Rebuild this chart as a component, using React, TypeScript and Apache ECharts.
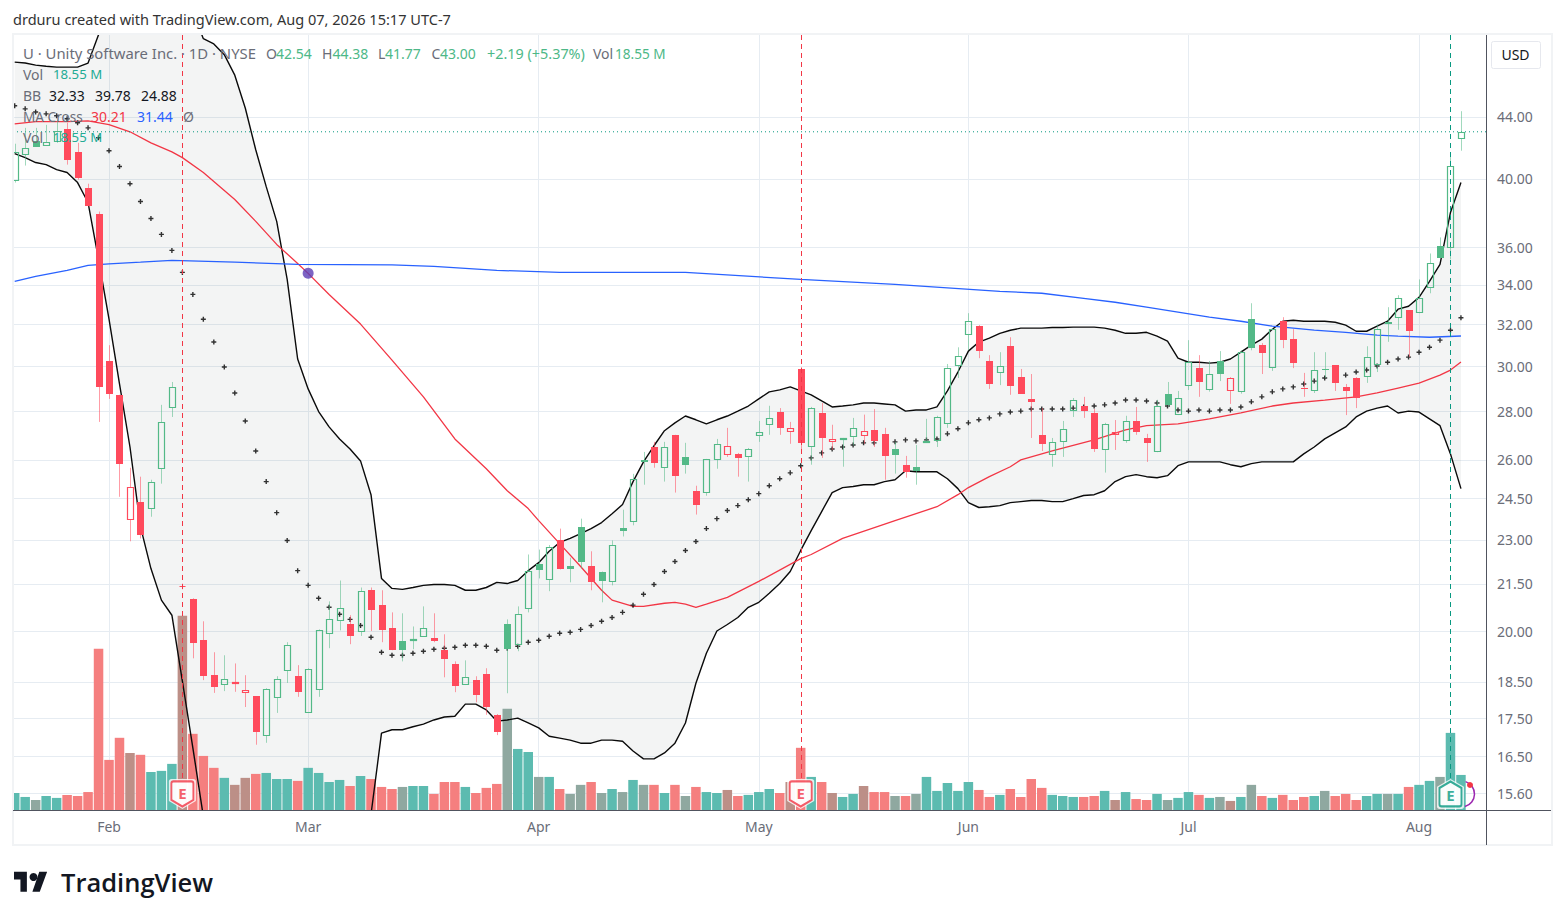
import React, { useEffect, useRef } from "react";
import * as echarts from "echarts";

const opens = [39.86,41.47,42.41,42.09,42.35,43.20,41.70,39.47,37.88,30.26,
28.73,23.70,24.39,24.13,25.65,28.15,21.40,21.00,19.72,18.69,
18.41,18.45,18.20,18.10,17.02,18.06,18.82,18.66,17.65,18.26,
19.92,20.32,20.23,19.98,21.29,20.81,20.08,19.69,19.70,19.83,
19.78,19.42,19.01,18.41,18.54,18.72,17.58,20.23,19.59,20.70,
22.18,21.64,22.98,22.08,23.47,22.11,21.91,21.57,23.44,23.63,
26.00,26.52,25.68,27.02,26.12,24.80,24.71,25.99,26.21,26.24,
26.11,26.96,27.42,27.98,27.13,29.89,26.51,27.94,26.74,26.81,
26.95,26.99,27.22,27.05,26.44,25.81,25.73,26.69,26.75,27.47,
30.04,31.51,31.92,30.26,29.69,30.95,29.52,28.55,27.02,26.19,
26.71,28.01,28.24,27.94,26.39,27.00,26.75,27.60,26.89,26.31,
28.77,27.85,29.13,29.93,28.93,30.26,28.89,28.84,32.26,31.00,
29.92,32.16,31.29,29.03,28.89,29.89,30.07,29.08,29.48,29.51,
30.09,32.10,32.30,32.71,32.55,33.86,36.12,36.00,42.54];

const closes = [41.70,41.96,42.03,42.35,43.07,41.20,40.08,38.35,29.08,28.77,
25.84,24.96,23.19,25.15,27.56,29.08,21.43,19.64,18.67,18.36,
18.57,18.51,18.26,17.14,18.31,18.59,19.59,18.22,18.88,20.04,
20.38,20.73,19.85,21.28,20.65,20.02,19.42,19.43,19.77,20.10,
19.69,19.15,18.38,18.65,18.12,17.80,17.13,19.45,20.54,21.93,
21.96,22.76,21.98,22.01,22.22,21.56,21.61,22.83,23.33,25.25,
25.92,25.88,26.51,25.38,25.81,24.28,26.03,26.63,26.55,26.08,
26.43,27.13,27.72,27.31,27.30,26.69,28.14,26.87,26.85,26.89,
27.30,27.17,26.77,26.16,26.20,25.51,25.55,26.77,27.76,29.92,
30.47,32.15,30.73,29.21,30.02,29.12,28.77,28.42,26.65,26.71,
27.26,28.49,28.02,26.44,27.47,27.13,27.59,27.14,26.69,28.23,
28.28,28.58,30.20,29.30,29.64,29.66,29.46,30.70,30.86,30.62,
31.77,31.24,30.17,29.00,29.83,29.84,29.26,28.90,28.59,30.43,
31.80,32.03,33.35,31.69,33.35,35.18,35.45,40.81,43.00];

const highs = [42.22,43.26,43.26,43.46,43.80,43.60,42.28,39.71,38.05,31.00,
28.73,25.69,25.34,25.22,28.29,29.30,21.51,21.03,20.30,19.36,
19.27,19.03,18.69,18.10,18.32,18.66,19.66,18.98,18.89,20.05,
20.93,21.61,20.49,21.38,21.38,21.29,20.58,20.55,20.14,20.77,
20.55,19.90,19.09,19.12,18.66,18.89,17.61,20.36,20.77,22.49,
22.66,22.82,23.40,22.38,23.76,22.60,21.91,22.98,24.09,25.45,
26.32,26.73,26.73,27.02,26.69,24.99,26.04,26.85,27.31,26.28,
26.48,27.60,28.25,28.15,27.56,29.98,28.20,28.37,27.44,26.89,
27.73,27.87,28.11,27.31,26.73,26.16,26.60,27.69,27.82,30.12,
30.90,32.56,31.97,30.53,30.67,31.38,29.89,29.66,28.15,26.89,
27.60,28.59,28.64,28.11,27.52,27.64,27.82,28.20,27.06,28.51,
29.30,28.90,31.24,30.53,30.26,30.72,29.52,30.76,33.06,31.10,
31.83,32.36,31.77,29.71,30.67,30.67,30.07,29.21,29.52,30.95,
32.01,32.86,33.47,32.71,34.29,35.68,36.57,41.64,44.38];

const lows = [39.78,40.83,42.02,42.09,42.28,40.89,39.96,38.35,27.56,28.55,
24.57,22.95,23.05,23.83,25.07,27.77,21.32,19.18,18.55,18.19,
18.24,18.22,17.80,16.80,16.85,17.64,18.47,18.08,17.65,18.08,
19.48,20.02,19.60,19.85,20.00,19.66,19.42,19.09,19.45,19.83,
19.66,18.63,18.21,18.41,17.93,17.59,17.05,18.18,19.39,20.58,
21.68,21.26,21.98,21.55,22.01,21.29,20.90,21.45,23.12,23.52,
25.03,25.69,25.15,24.73,25.46,23.91,24.61,25.65,26.12,25.34,
25.15,26.73,27.02,27.02,26.65,26.32,25.81,26.08,26.40,25.73,
26.58,26.65,26.52,25.22,25.46,25.30,25.03,26.69,26.52,27.31,
29.48,30.76,30.39,28.99,29.16,28.73,28.77,26.89,26.36,25.73,
26.12,27.77,27.73,26.32,25.50,26.40,26.69,27.02,25.92,26.31,
28.20,27.85,28.94,28.64,28.87,29.34,28.33,28.78,30.76,29.66,
29.80,30.86,29.93,28.64,28.81,29.48,28.90,27.85,28.15,29.26,
29.75,31.16,31.74,30.44,32.56,33.57,35.46,35.36,41.77];

const volumes = [9.0,6.9,5.3,7.4,6.4,8.0,7.4,9.5,85.3,26.5,38.2,30.2,29.2,20.1,20.7,24.4,102.8,40.3,28.6,22.3,17.0,13.3,17.0,19.1,19.6,16.4,16.4,15.4,
22.3,19.6,14.8,15.9,12.7,18.0,16.4,12.2,11.1,12.2,12.7,12.7,8.5,14.8,14.8,12.2,9.0,11.7,13.8,53.5,32.3,30.7,17.5,17.5,11.1,
8.5,13.3,14.8,9.0,11.1,9.5,15.9,13.3,13.3,9.0,13.3,7.4,12.2,9.5,9.0,10.6,7.4,8.0,9.5,11.1,9.0,14.8,32.9,17.5,14.8,9.0,6.9,8.5,12.7,9.5,9.5,7.4,7.4,8.5,17.5,10.1,14.3,10.1,14.8,10.6,6.9,8.0,11.1,6.9,16.4,11.7,8.0,7.4,6.9,6.9,7.4,10.1,5.3,9.5,5.8,5.3,8.5,5.3,6.4,9.5,8.0,6.4,6.9,4.8,6.9,13.3,7.4,6.4,8.0,5.3,6.9,7.4,10.1,7.4,8.5,5.3,7.4,8.5,8.5,8.5,12.2,13.3,15.4,17.5,40.8,18.55];

const bbUpper = [47.85,47.78,47.63,47.55,47.48,47.48,47.48,47.78,49.9,53.0,55.5,57.0,58.0,58.5,58.0,56.0,54.0,51.7,49.6,49.20,
48.4,46.9,44.6,41.83,39.53,37.48,34.29,30.35,28.99,28.0,27.35,26.85,26.44,25.96,24.65,21.68,21.35,21.32,21.38,21.45,
21.48,21.48,21.45,21.29,21.29,21.38,21.55,21.51,21.61,21.94,22.21,22.60,22.91,23.05,23.22,23.40,23.62,23.94,24.28,25.15,
25.92,26.57,27.19,27.52,27.81,27.65,27.48,27.65,27.81,28.02,28.24,28.55,28.86,28.95,29.08,28.90,28.73,28.46,28.20,28.24,
28.29,28.37,28.37,28.33,28.29,28.02,28.07,28.07,28.20,28.90,29.75,30.72,31.15,31.34,31.57,31.72,31.82,31.82,31.82,31.85,
31.85,31.87,31.87,31.87,31.82,31.72,31.57,31.57,31.62,31.43,31.19,30.39,30.20,30.20,30.16,30.20,30.35,30.67,31.00,31.29,
31.77,32.16,32.21,32.16,32.16,32.16,32.11,31.97,31.67,31.67,31.92,32.16,32.76,32.91,33.36,34.19,35.09,38.0,39.78];

const bbLower = [41.58,41.33,41.02,40.89,40.58,40.40,39.78,38.58,35.36,32.26,29.21,26.52,23.47,22.01,20.97,20.49,18.52,16.72,15.05,14.8,
14.4,14.1,13.9,13.8,13.7,13.7,13.8,13.9,14.0,14.0,14.1,14.3,14.5,14.8,15.1,17.10,17.19,17.19,17.27,17.34,
17.45,17.53,17.55,17.88,17.88,17.72,17.42,17.45,17.50,17.37,17.24,17.02,16.97,16.92,16.84,16.84,16.92,16.92,16.89,16.64,
16.44,16.44,16.59,16.84,17.37,18.46,19.33,20.00,20.20,20.42,20.74,20.90,21.19,21.51,21.91,22.63,23.33,24.02,24.73,24.92,
24.96,25.03,25.03,25.15,25.22,25.57,25.53,25.53,25.53,25.26,24.88,24.35,24.17,24.20,24.24,24.35,24.39,24.43,24.43,24.39,
24.39,24.50,24.62,24.65,24.80,25.15,25.34,25.42,25.34,25.30,25.38,25.77,25.92,25.92,25.92,25.92,25.81,25.73,25.85,25.92,
25.92,25.92,25.92,26.24,26.52,26.85,27.10,27.35,27.77,28.02,28.15,28.24,27.94,28.02,27.98,27.69,27.40,26.24,24.88];

const bbBasis = [44.75,44.54,44.33,44.20,44.07,43.87,43.60,43.26,42.61,41.77,40.77,39.71,38.64,37.65,36.74,35.85,34.66,33.51,32.26,31.15,
29.98,28.81,27.60,26.36,25.15,23.98,22.98,21.94,21.45,21.03,20.74,20.52,20.36,20.17,19.81,19.36,19.27,19.27,19.33,19.39,
19.45,19.48,19.51,19.57,19.57,19.54,19.42,19.48,19.54,19.66,19.72,19.84,19.93,19.96,20.05,20.17,20.30,20.42,20.58,20.81,
21.16,21.48,21.91,22.25,22.63,22.94,23.40,23.76,24.06,24.24,24.46,24.69,24.99,25.26,25.49,25.77,26.08,26.28,26.44,26.52,
26.60,26.69,26.69,26.73,26.73,26.81,26.77,26.81,26.85,27.06,27.27,27.52,27.65,27.73,27.90,27.98,28.02,28.11,28.11,28.11,
28.11,28.15,28.20,28.24,28.29,28.37,28.50,28.50,28.46,28.37,28.24,28.07,28.02,28.07,28.02,28.07,28.07,28.20,28.42,28.64,
28.86,28.99,29.08,29.21,29.34,29.48,29.52,29.61,29.75,29.84,30.03,30.20,30.35,30.44,30.67,30.90,31.24,31.72,32.33];

const ma50Index = [0,2,5,7,9,11,13,15,16,18,21,23,25,27,28,30,33,36,39,42,45,47,49,50,52,54,56,57,59,60,62,63,64,65,66,68,71,75,76,79,84,88,90,91,93,95,96,99,103,106,108,111,114,117,120,122,125,128,130,132,134,136,137,138];
const ma50Values = [43.53,43.67,43.67,43.73,43.47,43.0,42.28,41.70,41.33,40.40,38.76,37.48,36.18,35.14,34.61,33.51,32.02,30.30,28.64,26.85,25.65,24.80,24.13,23.69,22.87,22.08,21.29,20.97,20.77,20.77,20.87,20.90,20.84,20.74,20.84,21.06,21.58,22.35,22.49,23.05,23.69,24.20,24.65,24.92,25.34,25.73,26.00,26.36,26.81,27.23,27.40,27.48,27.69,27.94,28.24,28.37,28.50,28.64,28.81,29.03,29.25,29.61,29.84,30.21];

const ma200Index = [0,2,5,7,9,12,15,21,27,36,40,46,52,64,75,84,94,98,102,105,108,111,114,117,120,124,127,130,132,135,138];
const ma200Values = [34.19,34.45,34.77,35.04,35.12,35.21,35.31,35.21,35.09,35.06,34.98,34.77,34.66,34.66,34.29,34.03,33.67,33.57,33.31,33.11,32.86,32.61,32.36,32.16,31.92,31.72,31.62,31.48,31.43,31.38,31.44];

const crossPoint = [28, 34.61];
const lastClose = 43.0;
const earningsPast = [16, 75];
const earningsNext = [137];
const earningsLineBottom = 15.85;
const badgeVolumeLevel = 8.5;

const monthIndex = [9, 28, 50, 71, 91, 112, 134];
const monthNames = ["Feb", "Mar", "Apr", "May", "Jun", "Jul", "Aug"];
const priceTicks = [15.6, 16.5, 17.5, 18.5, 20, 21.5, 23, 24.5, 26, 28, 30, 32, 34, 36, 40, 44];

const Y_MIN = 15.2;
const Y_MAX = 49.88;
const X_MIN = -0.162;
const X_MAX = 140.39;

const UP = "#53b987";
const DOWN = "#ff4a5c";
const GRID = "#e6ecf2";
const TEXT = "#6a6d78";
const VALUE_TEAL = "#22ab94";
const VALUE_GREEN = "#4db887";
const FONT = '"Noto Sans", sans-serif';

function volumeColor(i: number): string {
  const up = i === 0 ? true : closes[i] >= closes[i - 1];
  const hollow = closes[i] >= opens[i];
  if (up && hollow) return "#5cbbb0";
  if (!up && !hollow) return "#f57f7f";
  if (up) return "#8fa8a0";
  return "#bc8f87";
}

function candleItem(params: any, api: any) {
  const i = api.value(0);
  const o = api.value(1);
  const c = api.value(2);
  const l = api.value(3);
  const h = api.value(4);
  const prev = params.dataIndex === 0 ? o : closes[params.dataIndex - 1];
  const color = c >= prev ? UP : DOWN;
  const hollow = c >= o;
  const x = Math.round(api.coord([i, o])[0]);
  const yH = api.coord([i, h])[1];
  const yL = api.coord([i, l])[1];
  const yT = Math.round(api.coord([i, Math.max(o, c)])[1]);
  const yB = Math.max(Math.round(api.coord([i, Math.min(o, c)])[1]), yT + 1);
  const wick = (a: number, b: number) => ({
    type: "line",
    shape: { x1: x + 0.5, y1: a, x2: x + 0.5, y2: b },
    style: { stroke: color, lineWidth: 1, opacity: 0.55 },
  });
  const body = hollow
    ? {
        type: "rect",
        shape: { x: x - 2.5, y: yT + 0.5, width: 6, height: yB - yT - 1 },
        style: { fill: "none", stroke: color, lineWidth: 1.2 },
      }
    : {
        type: "rect",
        shape: { x: x - 3, y: yT, width: 7, height: yB - yT },
        style: { fill: color },
      };
  return { type: "group", children: [wick(yH, yT), wick(yB, yL), body] };
}

function bandItem(_params: any, api: any) {
  const pts: number[][] = [];
  bbUpper.forEach((v, i) => pts.push(api.coord([i, v])));
  for (let i = bbLower.length - 1; i >= 0; i--) pts.push(api.coord([i, bbLower[i]]));
  return { type: "polygon", shape: { points: pts }, style: { fill: "rgba(76,96,85,0.065)" } };
}

function earningsLineItem(params: any, api: any) {
  const i = api.value(0);
  const a = api.coord([i, Y_MAX]);
  const b = api.coord([i, earningsLineBottom]);
  return {
    type: "line",
    shape: { x1: Math.round(a[0]) + 0.5, y1: a[1], x2: Math.round(a[0]) + 0.5, y2: b[1] },
    style: { stroke: api.value(1) ? "#089981" : "#f23645", lineWidth: 1, lineDash: [5, 4] },
  };
}

const SHIELD = "path://M2 0H18Q20 0 20 2V17L10 23L0 17V2Q0 0 2 0Z";
const HOUSE = "path://M10 0L20 6V21Q20 23 18 23H2Q0 23 0 21V6Z";
const PLUS = "path://M1.8 0H3.2V1.8H5V3.2H3.2V5H1.8V3.2H0V1.8H1.8Z";
const LOGO_PATH = "M14 25H7V14H0V7h14v18zM28 25h-8l7.5-18H36l-8 18z";

function lineSeries(name: string, data: number[][], color: string, width: number) {
  return {
    name,
    type: "line",
    data,
    yAxisIndex: 0,
    showSymbol: false,
    symbol: "none",
    silent: true,
    z: 3,
    lineStyle: { color, width },
  };
}

function legendText(x: number, y: number, text: string, fill: string, fontSize = 14) {
  return {
    type: "text",
    x,
    y,
    z: 100,
    silent: true,
    style: { text, fill, fontFamily: FONT, fontSize, verticalAlign: "middle" },
  };
}

export default function App() {
  const ref = useRef<HTMLDivElement>(null);
  useEffect(() => {
    document.body.style.margin = "0";
    document.body.style.background = "#ffffff";
    echarts.graphic.registerShape("tvlogo", echarts.graphic.extendPath(LOGO_PATH, {}) as any);
    const chart = echarts.init(ref.current!, undefined, { renderer: "svg" });
    const idx = (arr: number[]) => arr.map((v, i) => [i, v]);
    chart.setOption({
      animation: false,
      backgroundColor: "#ffffff",
      grid: { left: 13, right: 78, top: 35, bottom: 110, containLabel: false },
      xAxis: {
        type: "value",
        min: X_MIN,
        max: X_MAX,
        axisLine: { show: false },
        axisTick: { show: false, customValues: monthIndex },
        splitLine: { show: true, lineStyle: { color: GRID, width: 1 } },
        axisLabel: {
          customValues: monthIndex,
          margin: 9,
          fontFamily: FONT,
          fontSize: 14,
          color: TEXT,
          formatter: (v: number) => monthNames[monthIndex.indexOf(Math.round(v))],
        },
      },
      yAxis: [
        {
          type: "log",
          logBase: 10,
          min: Y_MIN,
          max: Y_MAX,
          position: "right",
          axisLine: { show: false },
          axisTick: { show: false, customValues: priceTicks },
          splitLine: { show: true, lineStyle: { color: GRID, width: 1 } },
          axisLabel: {
            customValues: priceTicks,
            margin: 11,
            fontFamily: FONT,
            fontSize: 14,
            color: TEXT,
            formatter: (v: number) => v.toFixed(2),
          },
        },
        { type: "value", min: 0, max: 410, show: false, position: "left", splitLine: { show: false } },
      ],
      graphic: [
        legendText(13, 19, "drduru created with TradingView.com, Aug 07, 2026 15:17 UTC-7", "#333333", 14.55),
        { type: "rect", z: 89, silent: true, shape: { x: 0, y: 35, width: 12.5, height: 778 }, style: { fill: "#ffffff" } },
        { type: "rect", z: 90, silent: true, shape: { x: 13, y: 34, width: 1539, height: 811 }, style: { fill: "none", stroke: "#f1f3f5", lineWidth: 2 } },
        { type: "line", z: 91, silent: true, shape: { x1: 13, y1: 810.5, x2: 1551, y2: 810.5 }, style: { stroke: "#50535e", lineWidth: 1 } },
        { type: "line", z: 91, silent: true, shape: { x1: 1486.5, y1: 35, x2: 1486.5, y2: 845 }, style: { stroke: "#50535e", lineWidth: 1 } },
        { type: "rect", z: 91, silent: true, shape: { x: 1491.5, y: 41.5, width: 49, height: 27, r: 2 }, style: { fill: "#ffffff", stroke: "#e6e8ee", lineWidth: 1 } },
        { type: "text", x: 1515.5, y: 54, z: 100, silent: true, style: { text: "USD", fontFamily: FONT, fontSize: 14, fill: "#131722", align: "center", verticalAlign: "middle" } },
        legendText(23, 53, "U · Unity Software Inc. · 1D · NYSE", TEXT, 14.85),
        legendText(266, 53, "O", TEXT),
        legendText(276, 53, "42.54", VALUE_GREEN),
        legendText(322, 53, "H", TEXT),
        legendText(332.5, 53, "44.38", VALUE_GREEN),
        legendText(378, 53, "L", TEXT),
        legendText(385, 53, "41.77", VALUE_GREEN),
        legendText(431.5, 53, "C", TEXT),
        legendText(440, 53, "43.00", VALUE_GREEN),
        legendText(487, 53, "+2.19 (+5.37%)", VALUE_GREEN, 14.4),
        legendText(593, 53, "Vol", TEXT),
        legendText(615, 53, "18.55 M", VALUE_GREEN, 13.6),
        legendText(23, 74, "Vol", TEXT),
        legendText(53, 74, "18.55 M", VALUE_TEAL, 13.2),
        legendText(23, 95, "BB", TEXT),
        legendText(49, 95, "32.33", "#131722"),
        legendText(95, 95, "39.78", "#131722"),
        legendText(141, 95, "24.88", "#131722"),
        legendText(23, 116, "MA Cross", TEXT, 13.6),
        legendText(91, 116, "30.21", "#f23645"),
        legendText(137, 116, "31.44", "#2962ff"),
        legendText(183, 116, "Ø", TEXT),
        legendText(23, 137, "Vol", TEXT),
        legendText(53, 137, "18.55 M", VALUE_TEAL, 13.2),
        { type: "tvlogo", x: 14, y: 864, scaleX: 0.92, scaleY: 1.11, z: 100, silent: true, style: { fill: "#131722" } },
        { type: "circle", z: 100, silent: true, shape: { cx: 33.5, cy: 877, r: 4 }, style: { fill: "#131722" } },
        { type: "text", x: 61, y: 882, z: 100, silent: true, style: { text: "TradingView", fontFamily: '"Open Sans", sans-serif', fontWeight: 600, fontSize: 25.5, fill: "#131722", verticalAlign: "middle" } },
        { type: "arc", z: 7, silent: true, shape: { cx: 1461.5, cy: 794, r: 13, startAngle: -1.25, endAngle: 1.3 }, style: { fill: "none", stroke: "#9c27b0", lineWidth: 1.5 } },
        { type: "circle", z: 9, silent: true, shape: { cx: 1470, cy: 785, r: 3 }, style: { fill: "#f23645" } },
      ],
      series: [
        {
          name: "BB fill",
          type: "custom",
          data: [[0]],
          encode: { x: 0 },
          yAxisIndex: 0,
          renderItem: bandItem,
          clip: true,
          silent: true,
          z: 1,
        },
        {
          name: "Volume",
          type: "bar",
          yAxisIndex: 1,
          barWidth: 9.5,
          clip: true,
          silent: true,
          z: 2,
          data: volumes.map((v, i) => ({ value: [i, v], itemStyle: { color: volumeColor(i) } })),
        },
        lineSeries("BB upper", idx(bbUpper), "#0a0a0a", 1.4),
        lineSeries("BB lower", idx(bbLower), "#0a0a0a", 1.4),
        lineSeries("MA 50", ma50Index.map((x, k) => [x, ma50Values[k]]), "#f23645", 1.3),
        lineSeries("MA 200", ma200Index.map((x, k) => [x, ma200Values[k]]), "#2962ff", 1.3),
        {
          name: "Last",
          type: "line",
          data: [[X_MIN, lastClose], [X_MAX, lastClose]],
          showSymbol: false,
          symbol: "none",
          silent: true,
          z: 3,
          lineStyle: { color: "#089981", width: 1, type: [1, 3] },
        },
        {
          name: "BB basis",
          type: "scatter",
          data: idx(bbBasis),
          symbol: PLUS,
          symbolSize: 5,
          silent: true,
          z: 3,
          itemStyle: { color: "#000000" },
        },
        {
          name: "Cross",
          type: "scatter",
          data: [crossPoint],
          symbol: "circle",
          symbolSize: 11,
          silent: true,
          z: 6,
          itemStyle: { color: "#5b3db5" },
        },
        {
          name: "U",
          type: "custom",
          data: opens.map((o, i) => [i, o, closes[i], lows[i], highs[i]]),
          encode: { x: 0, y: [1, 2, 3, 4] },
          renderItem: candleItem,
          clip: true,
          silent: true,
          z: 4,
        },
        {
          name: "Earnings lines",
          type: "custom",
          data: [...earningsPast.map((i) => [i, 0]), ...earningsNext.map((i) => [i, 1])],
          encode: { x: 0 },
          renderItem: earningsLineItem,
          silent: true,
          z: 5,
        },
        {
          name: "Badge halo past",
          type: "scatter",
          yAxisIndex: 1,
          data: earningsPast.map((i) => [i, badgeVolumeLevel]),
          symbol: SHIELD,
          symbolSize: [27, 30],
          silent: true,
          z: 7,
          itemStyle: { color: "#ffffff" },
        },
        {
          name: "Badge past",
          type: "scatter",
          yAxisIndex: 1,
          data: earningsPast.map((i) => [i, badgeVolumeLevel]),
          symbol: SHIELD,
          symbolSize: [22, 25],
          silent: true,
          z: 8,
          itemStyle: { color: "#ffffff", borderColor: "#f23645", borderWidth: 2 },
          label: { show: true, position: "inside", formatter: "E", fontFamily: FONT, fontSize: 15, fontWeight: "bold", color: "#f23645", offset: [0, -1] },
        },
        {
          name: "Badge halo next",
          type: "scatter",
          yAxisIndex: 1,
          data: earningsNext.map((i) => [i, badgeVolumeLevel]),
          symbol: HOUSE,
          symbolSize: [27, 30],
          silent: true,
          z: 7,
          itemStyle: { color: "#ffffff" },
        },
        {
          name: "Badge next",
          type: "scatter",
          yAxisIndex: 1,
          data: earningsNext.map((i) => [i, badgeVolumeLevel]),
          symbol: HOUSE,
          symbolSize: [22, 25],
          silent: true,
          z: 8,
          itemStyle: { color: "#ffffff", borderColor: "#089981", borderWidth: 2 },
          label: { show: true, position: "inside", formatter: "E", fontFamily: FONT, fontSize: 15, fontWeight: "bold", color: "#089981", offset: [0, 1] },
        },
      ],
    });
    return () => chart.dispose();
  }, []);
  return <div ref={ref} style={{ position: "fixed", left: 0, top: 0, width: 1564, height: 920 }} />;
}
